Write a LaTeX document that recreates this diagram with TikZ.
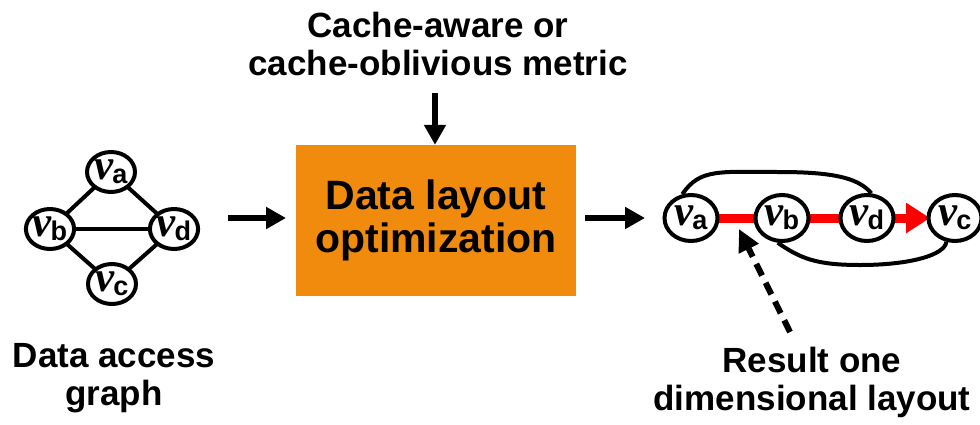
\documentclass[tikz,border=0pt]{standalone}
\usepackage{fontspec}
\setmainfont{Liberation Sans}
\newfontfamily\vserif{Liberation Serif}
\usetikzlibrary{arrows.meta,shapes.geometric}

\definecolor{optorange}{RGB}{240,139,14}
\definecolor{pathred}{RGB}{255,0,0}

% vertex label: bold italic serif v followed by a lowered sans letter
\newcommand\vtx[1]{{\vserif\bfseries\itshape\fontsize{43}{43}\selectfont v}\kern-1.5pt\raisebox{-4pt}{\fontsize{27}{27}\selectfont\bfseries #1}}

\tikzset{
  vsmall/.style={ellipse, draw=black, line width=4pt, fill=white, inner sep=0pt,
                 minimum width=48pt, minimum height=40pt},
  vlarge/.style={ellipse, draw=black, line width=4pt, fill=white, inner sep=0pt,
                 minimum width=53pt, minimum height=46pt},
  edge/.style={line width=4pt, black},
  flow/.style={line width=6.5pt, black, -{Triangle[length=20pt,width=21pt]}},
  lbl/.style={font=\fontsize{35}{38}\selectfont\bfseries, align=center, inner sep=0pt},
  optbox/.style={fill=optorange, minimum width=280pt, minimum height=151pt,
                 font=\fontsize{41}{43}\selectfont\bfseries, align=center, inner sep=0pt},
  order/.style={line width=9pt, pathred},
}

\begin{document}
\begin{tikzpicture}[x=1pt,y=-1pt]
  \useasboundingbox (0,0) rectangle (980,424);

  % data access graph: edges first so the vertices sit on top
  \coordinate (pa) at (111,172);
  \coordinate (pb) at (50,229);
  \coordinate (pd) at (174,229);
  \coordinate (pc) at (112,284);
  \draw[edge] (pa) -- (pb);
  \draw[edge] (pa) -- (pd);
  \draw[edge] (pb) -- (pd);
  \draw[edge] (pb) -- (pc);
  \draw[edge] (pd) -- (pc);
  \node[vsmall] (ga) at (pa) {\vtx{a}};
  \node[vsmall] (gb) at (pb) {\vtx{b}};
  \node[vsmall] (gd) at (pd) {\vtx{d}};
  \node[vsmall] (gc) at (pc) {\vtx{c}};
  \node[lbl] (gcap) at (114,378) {Data access\\graph};

  % optimisation step
  \node[optbox] (opt) at (436,220.5) {Data layout\\optimization};
  \node[lbl] (metric) at (438,44) {Cache-aware or\\cache-oblivious metric};
  \coordinate (metricend) at (435,93);
  \draw[flow] (metricend) -- (opt.north -| metricend);

  \coordinate (in0) at (228,218);
  \coordinate (in1) at (286,218);
  \draw[flow] (in0) -- (in1);
  \coordinate (out0) at (585,218);
  \coordinate (out1) at (645,218);
  \draw[flow] (out0) -- (out1);

  % resulting one dimensional layout
  \coordinate (la) at (691,218);
  \coordinate (lb) at (782,218);
  \coordinate (ld) at (867,218);
  \coordinate (lc) at (955,218);
  \draw[order] (la) -- (lb);
  \draw[order] (lb) -- (ld);
  \draw[order, -{Triangle[length=24pt,width=29pt]}] (ld) -- ++(63,0);
  \node[vlarge] (ra) at (la) {\vtx{a}};
  \node[vlarge] (rb) at (lb) {\vtx{b}};
  \node[vlarge] (rd) at (ld) {\vtx{d}};
  \node[vlarge] (rc) at (lc) {\vtx{c}};
  \draw[edge] (ra.110) .. controls (700,168) and (720,172) .. (780,172)
                     .. controls (840,172) and (860,180) .. (rd.80);
  \draw[edge] (rb.-100) .. controls (800,258) and (815,265) .. (860,265)
                      .. controls (910,265) and (945,255) .. (rc.-110);

  \node[lbl] (rcap) at (812,382) {Result one\\dimensional layout};
  \coordinate (ptr) at (790,332);
  \coordinate (ptrtip) at (739,229);
  \draw[line width=6pt, dash pattern=on 13pt off 8pt,
        -{Triangle[length=22pt,width=21pt]}] (ptr) -- (ptrtip);
\end{tikzpicture}
\end{document}
